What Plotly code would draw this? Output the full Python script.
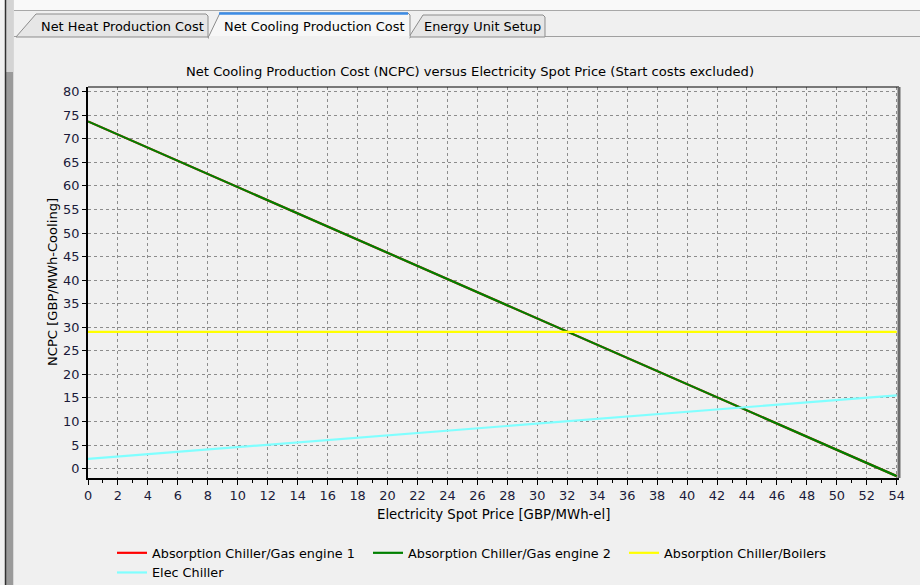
import plotly.graph_objects as go

# ---------------- data ----------------
spot_price = [0, 54]                      # GBP/MWh-el
abs_chiller_gas1 = [73.7, -1.6]           # hidden under engine 2 line
abs_chiller_gas2 = [73.7, -1.6]
abs_chiller_boilers = [29.0, 29.0]
elec_chiller = [2.05, 15.55]

series_names = ["Absorption Chiller/Gas engine 1", "Absorption Chiller/Gas engine 2",
                "Absorption Chiller/Boilers", "Elec Chiller"]
series_colors = ["#ff0000", "#008000", "#ffff00", "#80ffff"]

tab_labels = ["Net Heat Production Cost", "Net Cooling Production Cost", "Energy Unit Setup"]
chart_title = "Net Cooling Production Cost (NCPC) versus Electricity Spot Price (Start costs excluded)"
x_title = "Electricity Spot Price [GBP/MWh-el]"
y_title = "NCPC [GBP/MWh-Cooling]"

# ---------------- layout geometry (pixels) ----------------
FW, FH = 920, 585
L, R, T, B = 88, 899, 87, 478
W, H = R - L, B - T
FONT = "DejaVu Sans"
FS = 12.9
LFS = 12.8
TICKC = "#1a1a3a"


def P(x):
    return (x - L) / W


def Q(y):
    return (B - y) / H


fig = go.Figure()
for vals, name, col in zip([abs_chiller_gas1, abs_chiller_gas2, abs_chiller_boilers, elec_chiller],
                           series_names, series_colors):
    fig.add_trace(go.Scatter(x=spot_price, y=vals, mode="lines", name=name,
                             line=dict(color=col, width=2.2), hoverinfo="skip"))

shapes = []
# top white strip + line
shapes.append(dict(type="rect", xref="paper", yref="paper", x0=P(0), x1=P(FW), y0=Q(0), y1=Q(10),
                   fillcolor="#f9f9f9", line=dict(width=0), layer="below"))
shapes.append(dict(type="line", xref="paper", yref="paper", x0=P(14), x1=P(FW), y0=Q(10.5), y1=Q(10.5),
                   line=dict(color="#a8a8a8", width=1)))
# tab strip bottom line
shapes.append(dict(type="line", xref="paper", yref="paper", x0=P(14), x1=P(FW), y0=Q(36.5), y1=Q(36.5),
                   line=dict(color="#a0a0a0", width=1)))


def path(pts):
    s = "M " + " L ".join(f"{P(x):.5f},{Q(y):.5f}" for x, y in pts) + " Z"
    return s


# tab 1
shapes.append(dict(type="path", xref="paper", yref="paper",
                   path=path([(16, 37), (36, 14), (206, 14), (208, 16), (208, 37)]),
                   fillcolor="#e6e6e6", line=dict(color="#8c8c8c", width=1)))
# tab 3
shapes.append(dict(type="path", xref="paper", yref="paper",
                   path=path([(409, 37), (423, 15), (543, 15), (545, 17), (545, 37)]),
                   fillcolor="#e6e6e6", line=dict(color="#8c8c8c", width=1)))
# tab 2 (selected)
shapes.append(dict(type="path", xref="paper", yref="paper",
                   path=path([(208, 38), (220, 13), (408, 13), (410, 15), (410, 38)]),
                   fillcolor="#f7f7f7", line=dict(color="#8c8c8c", width=1)))
shapes.append(dict(type="rect", xref="paper", yref="paper", x0=P(209), x1=P(409.5), y0=Q(36), y1=Q(39),
                   fillcolor="#f0f0f0", line=dict(width=0)))
shapes.append(dict(type="line", xref="paper", yref="paper", x0=P(219), x1=P(408), y0=Q(13.5), y1=Q(13.5),
                   line=dict(color="#3c8ce6", width=2.5)))
# left splitter bar
shapes.append(dict(type="rect", xref="paper", yref="paper", x0=P(6), x1=P(13), y0=Q(0), y1=Q(FH),
                   fillcolor="#9a9a9a", line=dict(width=0)))
shapes.append(dict(type="rect", xref="paper", yref="paper", x0=P(6), x1=P(13), y0=Q(0), y1=Q(72),
                   fillcolor="#d4d4d4", line=dict(width=0)))
shapes.append(dict(type="line", xref="paper", yref="paper", x0=P(5.5), x1=P(5.5), y0=Q(0), y1=Q(FH),
                   line=dict(color="#303030", width=1.5)))
shapes.append(dict(type="line", xref="paper", yref="paper", x0=P(13.5), x1=P(13.5), y0=Q(0), y1=Q(FH),
                   line=dict(color="#d8d8d8", width=1)))
# plot frame: top and right
shapes.append(dict(type="line", xref="paper", yref="paper", x0=0, x1=1, y0=1, y1=1,
                   line=dict(color="#000000", width=1.2)))
shapes.append(dict(type="line", xref="paper", yref="paper", x0=1, x1=1, y0=0, y1=1,
                   line=dict(color="#6a6a6a", width=3)))

annotations = []
tab_centers = [(42 + 202) / 2, (222 + 405) / 2, (424 + 541) / 2]
for lab, cx in zip(tab_labels, tab_centers):
    annotations.append(dict(text=lab, xref="paper", yref="paper", x=P(cx), y=Q(26),
                            xanchor="center", yanchor="middle", showarrow=False,
                            font=dict(family=FONT, size=FS, color="#000000")))
annotations.append(dict(text=chart_title, xref="paper", yref="paper", x=P(470), y=Q(72),
                        xanchor="center", yanchor="middle", showarrow=False,
                        font=dict(family=FONT, size=13.1, color="#000000")))
annotations.append(dict(text=x_title, xref="paper", yref="paper", x=P(493), y=Q(514),
                        xanchor="center", yanchor="middle", showarrow=False,
                        font=dict(family=FONT, size=13.3, color="#000000")))
annotations.append(dict(text=y_title, xref="paper", yref="paper", x=P(52), y=Q(282),
                        xanchor="center", yanchor="middle", showarrow=False, textangle=-90,
                        font=dict(family=FONT, size=13.1, color="#000000")))

axis_common = dict(showgrid=True, gridcolor="#8c8c8c", gridwidth=1, griddash="3px,3px",
                   showline=True, linecolor="#000000", linewidth=2, zeroline=False,
                   ticks="outside", tickcolor="#000000", tickwidth=1,
                   tickfont=dict(family=FONT, size=FS, color=TICKC), fixedrange=True)

fig.update_layout(
    width=FW, height=FH,
    margin=dict(l=L, r=FW - R, t=T, b=FH - B, pad=0),
    paper_bgcolor="#f0f0f0", plot_bgcolor="#f0f0f0",
    font=dict(family=FONT, size=FS, color="#000000"),
    xaxis=dict(range=[0, 54.15], tick0=0, dtick=2, ticklen=5,
               minor=dict(dtick=1, ticks="outside", ticklen=3, tickcolor="#000000", showgrid=False),
               **axis_common),
    yaxis=dict(range=[-2, 81], tick0=0, dtick=5, ticklen=4, **axis_common),
    showlegend=True,
    legend=dict(orientation="h", xref="paper", yref="container", x=P(112), y=1 - 538 / FH,
                xanchor="left", yanchor="top", bgcolor="rgba(0,0,0,0)",
                entrywidth=211, entrywidthmode="pixels",
                font=dict(family=FONT, size=LFS, color="#000000"), itemclick=False),
    shapes=shapes, annotations=annotations,
)

fig.write_html("out.html", config={"displayModeBar": False},
               post_script="document.body.style.margin='0';document.body.style.overflow='hidden';")
